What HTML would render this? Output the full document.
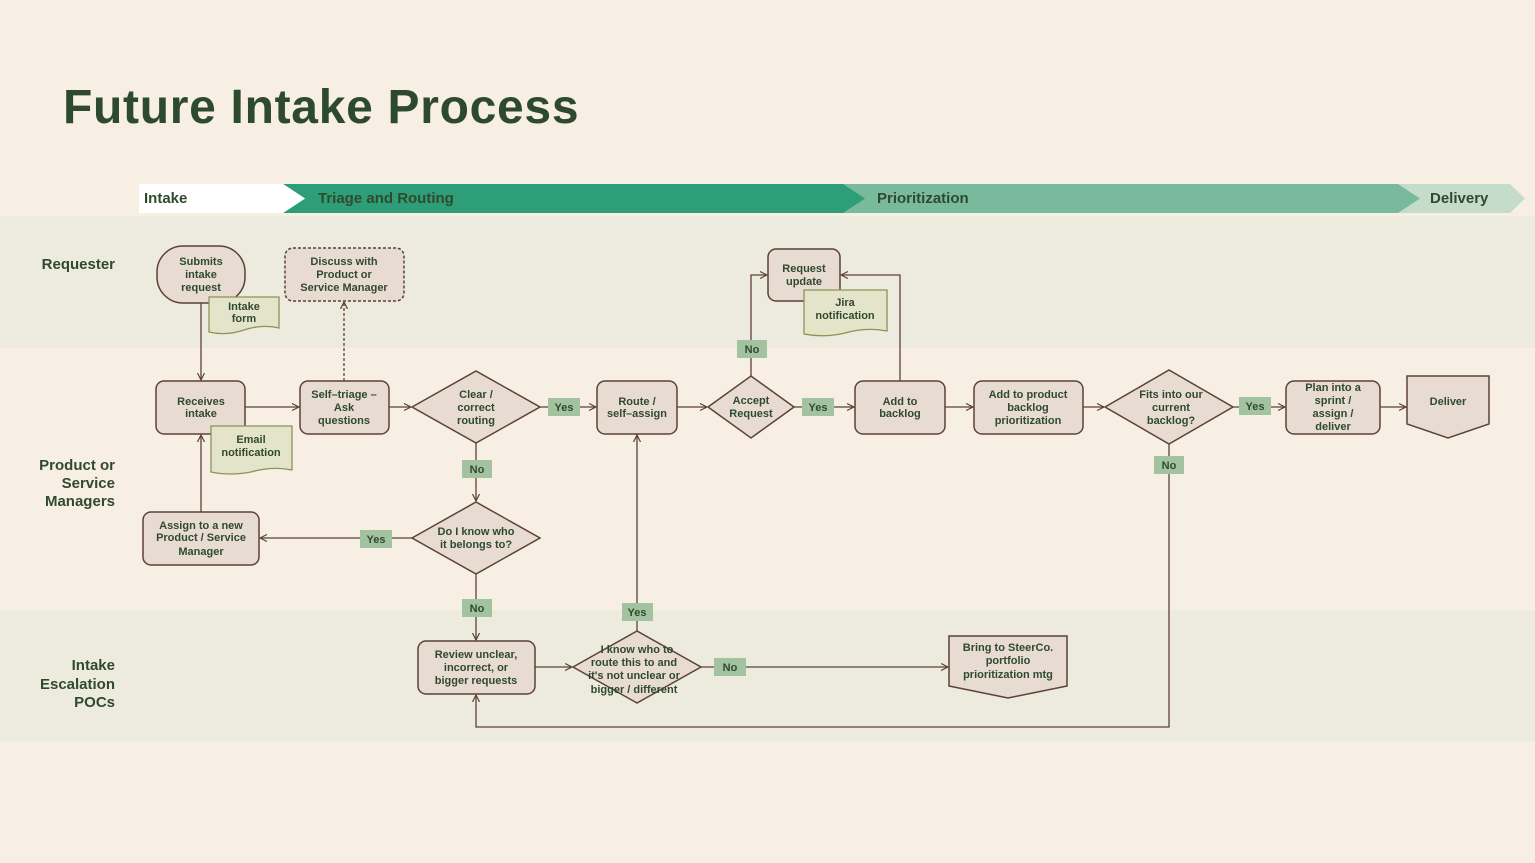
<!DOCTYPE html>
<html><head><meta charset="utf-8"><style>
body{margin:0;background:#f7efe3;}
svg{display:block;font-family:"Liberation Sans",sans-serif;}
.n{fill:#e8dbd2;stroke:#5b4236;stroke-width:1.5}
.t{font-size:11px;font-weight:bold;fill:#2f4a2e;text-anchor:middle}
.l{stroke:#5b4236;stroke-width:1.3;fill:none}
.lb{fill:#a3c29f}
.note{fill:#e3e4c9;stroke:#8c9356;stroke-width:1.3}
.ln{font-size:15px;font-weight:bold;fill:#2f4a2e;text-anchor:end}
</style></head><body>
<svg width="1535" height="863" viewBox="0 0 1535 863">
<defs><marker id="a" markerWidth="8" markerHeight="8" refX="7" refY="4" orient="auto" markerUnits="userSpaceOnUse"><path d="M0,0.5 L7,4 L0,7.5" fill="none" stroke="#5b4236" stroke-width="1.2"/></marker></defs>
<rect width="1535" height="863" fill="#f7efe3"/>
<rect y="216" width="1535" height="132" fill="#ecebdd"/>
<rect y="610" width="1535" height="132" fill="#ecebdd"/>
<text x="63" y="123" font-size="48" font-weight="bold" fill="#2d4a2e" letter-spacing="0.7">Future Intake Process</text>
<!-- header -->
<polygon points="1398,184 1510,184 1525,198.5 1510,213 1398,213" fill="#c6dccb"/>
<polygon points="843,184 1398,184 1420,198.5 1398,213 843,213" fill="#79b99c"/>
<polygon points="283,184 843,184 865,198.5 843,213 283,213 305,198.5" fill="#2e9e78"/>
<polygon points="139,184 283,184 305,198.5 283,213 139,213" fill="#fff"/>
<text x="144" y="203" font-size="15" font-weight="bold" fill="#2f4a2e">Intake</text>
<text x="318" y="203" font-size="15" font-weight="bold" fill="#2f4a2e">Triage and Routing</text>
<text x="877" y="203" font-size="15" font-weight="bold" fill="#2f4a2e">Prioritization</text>
<text x="1430" y="203" font-size="15" font-weight="bold" fill="#2f4a2e">Delivery</text>
<!-- lane labels -->
<text class="ln" x="115" y="269">Requester</text>
<text class="ln" x="115" y="470">Product or</text><text class="ln" x="115" y="488">Service</text><text class="ln" x="115" y="506">Managers</text>
<text class="ln" x="115" y="670">Intake</text><text class="ln" x="115" y="689">Escalation</text><text class="ln" x="115" y="707">POCs</text>
<!-- connectors -->
<path class="l" d="M201,303 V380" marker-end="url(#a)"/>
<path class="l" d="M245,407 H299" marker-end="url(#a)"/>
<path class="l" d="M344,381 V302" stroke-dasharray="3,2" marker-end="url(#a)"/>
<path class="l" d="M389,407 H411" marker-end="url(#a)"/>
<path class="l" d="M540,407 H596" marker-end="url(#a)"/>
<path class="l" d="M677,407 H707" marker-end="url(#a)"/>
<path class="l" d="M794,407 H854" marker-end="url(#a)"/>
<path class="l" d="M751,376 V275 H767" marker-end="url(#a)"/>
<path class="l" d="M900,381 V275 H841" marker-end="url(#a)"/>
<path class="l" d="M945,407 H973" marker-end="url(#a)"/>
<path class="l" d="M1083,407 H1104" marker-end="url(#a)"/>
<path class="l" d="M1233,407 H1285" marker-end="url(#a)"/>
<path class="l" d="M1380,407 H1406" marker-end="url(#a)"/>
<path class="l" d="M476,443 V501" marker-end="url(#a)"/>
<path class="l" d="M412,538 H260" marker-end="url(#a)"/>
<path class="l" d="M201,512 V435" marker-end="url(#a)"/>
<path class="l" d="M476,574 V640" marker-end="url(#a)"/>
<path class="l" d="M535,667 H572" marker-end="url(#a)"/>
<path class="l" d="M637,631 V435" marker-end="url(#a)"/>
<path class="l" d="M701,667 H948" marker-end="url(#a)"/>
<path class="l" d="M1169,444 V727 H476 V695" marker-end="url(#a)"/>
<!-- nodes -->
<rect class="n" x="157" y="246" width="88" height="57" rx="26"/>
<text class="t" x="201" y="265">Submits</text><text class="t" x="201" y="278">intake</text><text class="t" x="201" y="291">request</text>
<path class="note" d="M209,297 H279 V328 Q262,324 244,330 Q226,336 209,332 Z"/>
<text class="t" x="244" y="310">Intake</text><text class="t" x="244" y="322">form</text>
<rect class="n" x="285" y="248" width="119" height="53" rx="8" stroke-dasharray="3,2"/>
<text class="t" x="344" y="265">Discuss with</text><text class="t" x="344" y="278">Product or</text><text class="t" x="344" y="291">Service Manager</text>
<rect class="n" x="156" y="381" width="89" height="53" rx="8"/>
<text class="t" x="201" y="405">Receives</text><text class="t" x="201" y="417">intake</text>
<path class="note" d="M211,426 H292 V470 Q272,466 251,472 Q230,476 211,472 Z"/>
<text class="t" x="251" y="443">Email</text><text class="t" x="251" y="456">notification</text>
<rect class="n" x="300" y="381" width="89" height="53" rx="8"/>
<text class="t" x="344" y="398">Self–triage –</text><text class="t" x="344" y="411">Ask</text><text class="t" x="344" y="424">questions</text>
<polygon class="n" points="412,407 476,371 540,407 476,443"/>
<text class="t" x="476" y="398">Clear /</text><text class="t" x="476" y="411">correct</text><text class="t" x="476" y="424">routing</text>
<rect class="n" x="597" y="381" width="80" height="53" rx="8"/>
<text class="t" x="637" y="405">Route /</text><text class="t" x="637" y="417">self–assign</text>
<polygon class="n" points="708,407 751,376 794,407 751,438"/>
<text class="t" x="751" y="404">Accept</text><text class="t" x="751" y="417">Request</text>
<rect class="n" x="768" y="249" width="72" height="52" rx="8"/>
<text class="t" x="804" y="272">Request</text><text class="t" x="804" y="285">update</text>
<path class="note" d="M804,290 H887 V331 Q866,327 845,333 Q824,338 804,334 Z"/>
<text class="t" x="845" y="306">Jira</text><text class="t" x="845" y="319">notification</text>
<rect class="n" x="855" y="381" width="90" height="53" rx="8"/>
<text class="t" x="900" y="405">Add to</text><text class="t" x="900" y="417">backlog</text>
<rect class="n" x="974" y="381" width="109" height="53" rx="8"/>
<text class="t" x="1028" y="398">Add to product</text><text class="t" x="1028" y="411">backlog</text><text class="t" x="1028" y="424">prioritization</text>
<polygon class="n" points="1105,407 1169,370 1233,407 1169,444"/>
<text class="t" x="1171" y="398">Fits into our</text><text class="t" x="1171" y="411">current</text><text class="t" x="1171" y="424">backlog?</text>
<rect class="n" x="1286" y="381" width="94" height="53" rx="8"/>
<text class="t" x="1333" y="391">Plan into a</text><text class="t" x="1333" y="404">sprint /</text><text class="t" x="1333" y="417">assign /</text><text class="t" x="1333" y="430">deliver</text>
<polygon class="n" points="1407,376 1489,376 1489,424 1448,438 1407,424"/>
<text class="t" x="1448" y="405">Deliver</text>
<polygon class="n" points="412,538 476,502 540,538 476,574"/>
<text class="t" x="476" y="535">Do I know who</text><text class="t" x="476" y="548">it belongs to?</text>
<rect class="n" x="143" y="512" width="116" height="53" rx="8"/>
<text class="t" x="201" y="529">Assign to a new</text><text class="t" x="201" y="541">Product / Service</text><text class="t" x="201" y="555">Manager</text>
<rect class="n" x="418" y="641" width="117" height="53" rx="8"/>
<text class="t" x="476" y="658">Review unclear,</text><text class="t" x="476" y="671">incorrect, or</text><text class="t" x="476" y="684">bigger requests</text>
<polygon class="n" points="573,667 637,631 701,667 637,703"/>
<text class="t" x="637" y="653">I know who to</text><text class="t" x="634" y="666">route this to and</text><text class="t" x="634" y="679">it's not unclear or</text><text class="t" x="634" y="693">bigger / different</text>
<polygon class="n" points="949,636 1067,636 1067,686 1008,698 949,686"/>
<text class="t" x="1008" y="651">Bring to SteerCo.</text><text class="t" x="1008" y="664">portfolio</text><text class="t" x="1008" y="678">prioritization mtg</text>
<!-- labels -->
<g font-size="11" font-weight="bold" fill="#2f4a2e" text-anchor="middle">
<rect class="lb" x="548" y="398" width="32" height="18"/><text x="564" y="411">Yes</text>
<rect class="lb" x="802" y="398" width="32" height="18"/><text x="818" y="411">Yes</text>
<rect class="lb" x="1239" y="397" width="32" height="18"/><text x="1255" y="410">Yes</text>
<rect class="lb" x="737" y="340" width="30" height="18"/><text x="752" y="353">No</text>
<rect class="lb" x="462" y="460" width="30" height="18"/><text x="477" y="473">No</text>
<rect class="lb" x="360" y="530" width="32" height="18"/><text x="376" y="543">Yes</text>
<rect class="lb" x="462" y="599" width="30" height="18"/><text x="477" y="612">No</text>
<rect class="lb" x="622" y="603" width="31" height="18"/><text x="637" y="616">Yes</text>
<rect class="lb" x="714" y="658" width="32" height="18"/><text x="730" y="671">No</text>
<rect class="lb" x="1154" y="456" width="30" height="18"/><text x="1169" y="469">No</text>
</g>
</svg>
</body></html>
